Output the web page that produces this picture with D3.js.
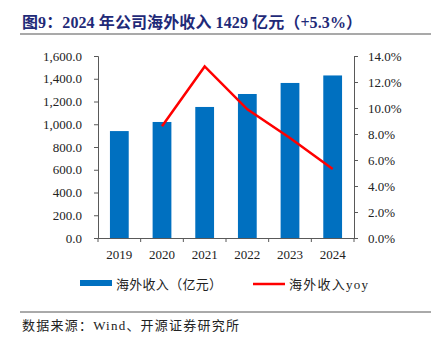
<!DOCTYPE html>
<html><head><meta charset="utf-8">
<script src="https://cdn.jsdelivr.net/npm/d3@7"></script>
<style>body{margin:0;background:#fff}svg{display:block}</style>
</head><body>
<script>
const categories = ["2019","2020","2021","2022","2023","2024"];
const revenue = [940, 1020, 1152, 1266, 1363, 1429];
const yoy = [null, 8.6, 13.2, 9.9, 7.7, 5.3];
const leftTicks = [0,200,400,600,800,1000,1200,1400,1600];
const rightTicks = [0,2,4,6,8,10,12,14];
const title = "图9：2024 年公司海外收入 1429 亿元（+5.3%）";
const legendLabels = ["海外收入（亿元）","海外收入yoy"];
const source = "数据来源：Wind、开源证券研究所";

const W=431,H=345;
const svg=d3.select("body").append("svg").attr("width",W).attr("height",H);
const serif="'Liberation Serif','Times New Roman','Noto Sans CJK SC',serif";
const axisColor="#595959";
const m={l:98,r:354,t:56,b:238};
const x=d3.scaleBand().domain(categories).range([m.l,m.r]).paddingInner(0.56).paddingOuter(0.28);
const xb=d3.scaleBand().domain(categories).range([m.l,m.r]);
const yL=d3.scaleLinear().domain([0,1600]).range([m.b,m.t]);
const yR=d3.scaleLinear().domain([0,14]).range([m.b,m.t]);

svg.append("text").attr("x",22).attr("y",28).attr("fill","#1F2A78")
  .attr("font-family",serif).attr("font-weight","bold").attr("font-size",16).attr("textLength",340).attr("lengthAdjust","spacing").text(title);
svg.append("line").attr("x1",20).attr("x2",431).attr("y1",34).attr("y2",34).attr("stroke","#555").attr("stroke-width",1.2);

svg.append("g").selectAll("rect").data(revenue).join("rect")
  .attr("x",(d,i)=>x(categories[i])).attr("width",x.bandwidth())
  .attr("y",d=>yL(d)).attr("height",d=>yL(0)-yL(d)).attr("fill","#0070C0");

const line=d3.line().defined(d=>d!=null).x((d,i)=>xb(categories[i])+xb.bandwidth()/2).y(d=>yR(d));
svg.append("path").datum(yoy).attr("d",line).attr("fill","none").attr("stroke","#FF0000").attr("stroke-width",2.5);

const gl=svg.append("g").attr("transform",`translate(${m.l},0)`)
  .call(d3.axisLeft(yL).tickValues(leftTicks).tickFormat(d3.format(",.1f")).tickSizeOuter(0).tickSize(4).tickPadding(12));
const gr=svg.append("g").attr("transform",`translate(${m.r},0)`)
  .call(d3.axisRight(yR).tickValues(rightTicks).tickFormat(d=>d.toFixed(1)+"%").tickSizeOuter(0).tickSize(4).tickPadding(10));
const gx=svg.append("g").attr("transform",`translate(0,${m.b})`)
  .call(d3.axisBottom(xb).tickSize(0).tickPadding(12));
svg.append("g").selectAll("line").data(d3.range(categories.length+1)).join("line")
  .attr("x1",i=>m.l+i*xb.step()).attr("x2",i=>m.l+i*xb.step())
  .attr("y1",m.b).attr("y2",m.b+4).attr("stroke",axisColor);
[gl,gr,gx].forEach(g=>{
  g.selectAll("path,line").attr("stroke",axisColor);
  g.selectAll("text").attr("font-family",serif).attr("font-size",13).attr("fill","#222");
});

// legend
svg.append("rect").attr("x",80).attr("y",280).attr("width",32).attr("height",6).attr("fill","#0070C0");
svg.append("text").attr("x",116).attr("y",289).attr("font-family",serif).attr("font-size",13).attr("fill","#222").attr("textLength",106).text(legendLabels[0]);
svg.append("line").attr("x1",253).attr("x2",285).attr("y1",284).attr("y2",284).attr("stroke","#FF0000").attr("stroke-width",2.5);
svg.append("text").attr("x",289).attr("y",289).attr("font-family",serif).attr("font-size",13).attr("fill","#222").attr("textLength",79).text(legendLabels[1]);

svg.append("line").attr("x1",20).attr("x2",431).attr("y1",312).attr("y2",312).attr("stroke","#555").attr("stroke-width",1);
svg.append("text").attr("x",22).attr("y",330).attr("font-family",serif).attr("font-size",13).attr("fill","#222").attr("textLength",217).text(source);
</script>
</body></html>
